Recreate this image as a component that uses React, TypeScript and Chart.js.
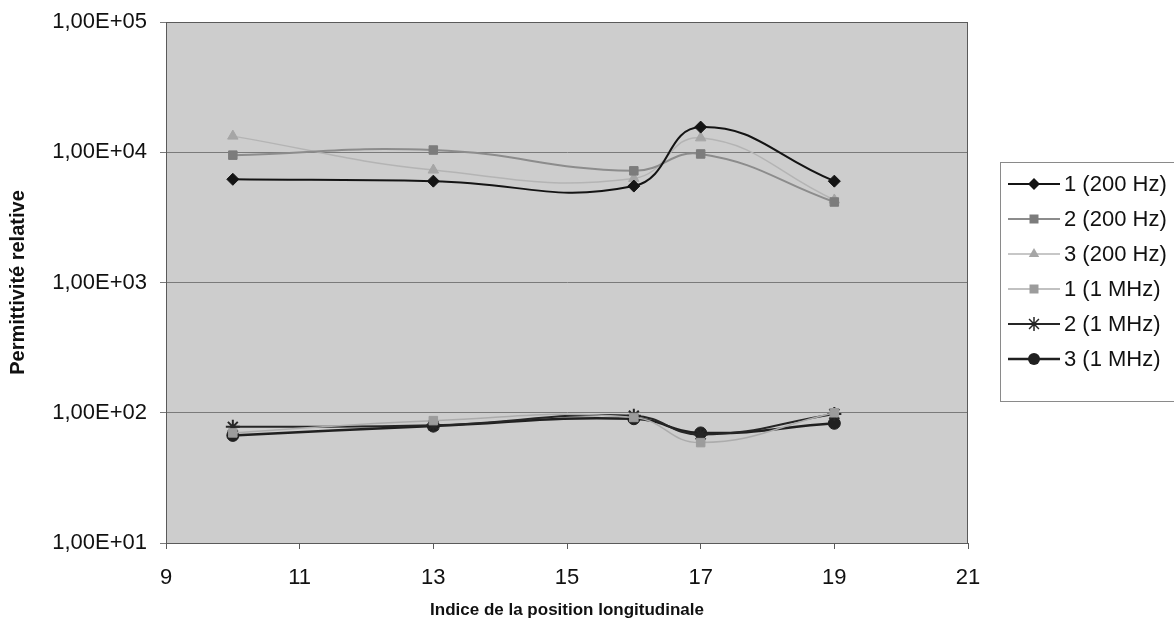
import { useEffect, useRef } from "react";
import { Chart, registerables } from "chart.js";

Chart.register(...registerables);

// Longitudinal position index of each measurement
const positions = [10, 13, 16, 17, 19];

// Relative permittivity per sample and frequency
const s1_200Hz = [6200, 6000, 5500, 15600, 6000];
const s2_200Hz = [9500, 10400, 7200, 9700, 4150];
const s3_200Hz = [13300, 7300, 6300, 12900, 4300];
const s1_1MHz = [70, 87, 92, 59, 100];
const s2_1MHz = [78, 80, 95, 68, 98];
const s3_1MHz = [67, 79, 90, 70, 83];

const seriesLabels = [
  "1 (200 Hz)",
  "2 (200 Hz)",
  "3 (200 Hz)",
  "1 (1 MHz)",
  "2 (1 MHz)",
  "3 (1 MHz)",
];

const yTickValues = [10, 100, 1000, 10000, 100000];
const xTickValues = [9, 11, 13, 15, 17, 19, 21];

const FONT = "'Liberation Sans', Arial, sans-serif";

type Style = {
  line: string;
  fill: string;
  width: number;
  point: string;
  radius: number;
};

const styles: Style[] = [
  { line: "#141414", fill: "#141414", width: 2, point: "rectRot", radius: 6 },
  { line: "#8c8c8c", fill: "#7c7c7c", width: 2, point: "rect", radius: 6 },
  { line: "#b4b4b4", fill: "#a6a6a6", width: 1.5, point: "triangle", radius: 6 },
  { line: "#acacac", fill: "#9c9c9c", width: 1.5, point: "rect", radius: 6 },
  { line: "#262626", fill: "#262626", width: 2, point: "star", radius: 7 },
  { line: "#202020", fill: "#202020", width: 2.5, point: "circle", radius: 6 },
];

const seriesValues = [s1_200Hz, s2_200Hz, s3_200Hz, s1_1MHz, s2_1MHz, s3_1MHz];

function sciLabel(v: number): string {
  const e = Math.round(Math.log10(v));
  return "1,00E+" + String(e).padStart(2, "0");
}

function drawMarker(ctx: CanvasRenderingContext2D, s: Style, x: number, y: number) {
  const r = s.radius;
  ctx.save();
  ctx.fillStyle = s.fill;
  ctx.strokeStyle = s.line;
  ctx.lineWidth = 1.5;
  ctx.beginPath();
  if (s.point === "rectRot") {
    ctx.moveTo(x, y - r);
    ctx.lineTo(x + r, y);
    ctx.lineTo(x, y + r);
    ctx.lineTo(x - r, y);
    ctx.closePath();
    ctx.fill();
  } else if (s.point === "rect") {
    const h = r * 0.75;
    ctx.rect(x - h, y - h, 2 * h, 2 * h);
    ctx.fill();
  } else if (s.point === "triangle") {
    ctx.moveTo(x, y - r);
    ctx.lineTo(x + r * 0.87, y + r * 0.5);
    ctx.lineTo(x - r * 0.87, y + r * 0.5);
    ctx.closePath();
    ctx.fill();
  } else if (s.point === "star") {
    for (let i = 0; i < 4; i++) {
      const a = (i * Math.PI) / 4;
      ctx.moveTo(x - Math.cos(a) * r, y - Math.sin(a) * r);
      ctx.lineTo(x + Math.cos(a) * r, y + Math.sin(a) * r);
    }
    ctx.stroke();
  } else {
    ctx.arc(x, y, r, 0, Math.PI * 2);
    ctx.fill();
  }
  ctx.restore();
}

const plotFrame = {
  id: "plotFrame",
  beforeDraw(chart: any) {
    const { ctx, chartArea: a } = chart;
    ctx.save();
    ctx.fillStyle = "#cdcdcd";
    ctx.fillRect(a.left, a.top, a.right - a.left, a.bottom - a.top);
    ctx.restore();
  },
  afterDraw(chart: any) {
    const { ctx, chartArea: a } = chart;
    ctx.save();
    ctx.strokeStyle = "#5a5a5a";
    ctx.lineWidth = 1;
    ctx.strokeRect(a.left + 0.5, a.top + 0.5, a.right - a.left - 1, a.bottom - a.top);
    ctx.restore();
  },
};

const sideLegend = {
  id: "sideLegend",
  afterDraw(chart: any) {
    const ctx: CanvasRenderingContext2D = chart.ctx;
    const boxX = 1000;
    const boxY = 162;
    const boxH = 239;
    ctx.save();
    ctx.strokeStyle = "#8a8a8a";
    ctx.lineWidth = 1;
    ctx.strokeRect(boxX + 0.5, boxY + 0.5, 200, boxH);
    ctx.font = `22px ${FONT}`;
    ctx.textBaseline = "middle";
    ctx.textAlign = "left";
    seriesLabels.forEach((label, i) => {
      const s = styles[i];
      const y = 184 + i * 35;
      ctx.strokeStyle = s.line;
      ctx.lineWidth = s.width;
      ctx.beginPath();
      ctx.moveTo(1008, y);
      ctx.lineTo(1060, y);
      ctx.stroke();
      drawMarker(ctx, s, 1034, y);
      ctx.fillStyle = "#111";
      ctx.fillText(label, 1064, y + 1);
    });
    ctx.restore();
  },
};

export default function App() {
  const ref = useRef<HTMLCanvasElement>(null);

  useEffect(() => {
    if (!ref.current) return;
    const chart = new Chart(ref.current, {
      type: "line",
      data: {
        datasets: seriesValues.map((vals, i) => ({
          label: seriesLabels[i],
          data: positions.map((x, j) => ({ x, y: vals[j] })),
          borderColor: styles[i].line,
          backgroundColor: styles[i].fill,
          borderWidth: styles[i].width,
          pointStyle: styles[i].point as any,
          pointRadius: styles[i].radius,
          pointBorderColor: styles[i].fill,
          pointBackgroundColor: styles[i].fill,
          pointBorderWidth: styles[i].point === "star" ? 2 : 1,
          tension: 0.45,
          fill: false,
        })),
      },
      options: {
        animation: false,
        responsive: false,
        devicePixelRatio: 1,
        layout: { padding: { top: 22, right: 206, bottom: 0, left: 0 } },
        plugins: {
          legend: { display: false },
          tooltip: { enabled: false },
        },
        scales: {
          x: {
            type: "linear",
            min: 9,
            max: 21,
            afterBuildTicks: (scale: any) => {
              scale.ticks = xTickValues.map((v) => ({ value: v }));
            },
            afterFit: (scale: any) => {
              scale.height = 91;
            },
            ticks: {
              font: { size: 22, family: FONT },
              color: "#111",
              padding: 16,
              maxRotation: 0,
            },
            grid: {
              drawOnChartArea: false,
              drawTicks: true,
              tickLength: 6,
              color: "#5a5a5a",
            },
            border: { color: "#5a5a5a" },
            title: {
              display: true,
              text: "Indice de la position longitudinale",
              font: { size: 17, weight: "bold", family: FONT },
              color: "#111",
              padding: { top: 4, bottom: 13 },
            },
          },
          y: {
            type: "logarithmic",
            min: 10,
            max: 100000,
            afterBuildTicks: (scale: any) => {
              scale.ticks = yTickValues.map((v) => ({ value: v, major: true }));
            },
            afterFit: (scale: any) => {
              scale.width = 166;
              scale.paddingTop = 0;
              scale.paddingBottom = 0;
            },
            ticks: {
              font: { size: 22, family: FONT },
              color: "#111",
              padding: 13,
              callback: (v: any) => sciLabel(Number(v)),
            },
            grid: {
              color: "#7a7a7a",
              tickLength: 6,
            },
            border: { color: "#5a5a5a" },
            title: {
              display: true,
              text: "Permittivité relative",
              font: { size: 20, weight: "bold", family: FONT },
              color: "#111",
              padding: { top: 6, bottom: 0 },
            },
          },
        },
      },
      plugins: [plotFrame, sideLegend],
    });
    return () => chart.destroy();
  }, []);

  return (
    <div style={{ position: "absolute", left: 0, top: 0, width: 1174, height: 634, background: "#fff" }}>
      <canvas ref={ref} width={1174} height={634} />
    </div>
  );
}
